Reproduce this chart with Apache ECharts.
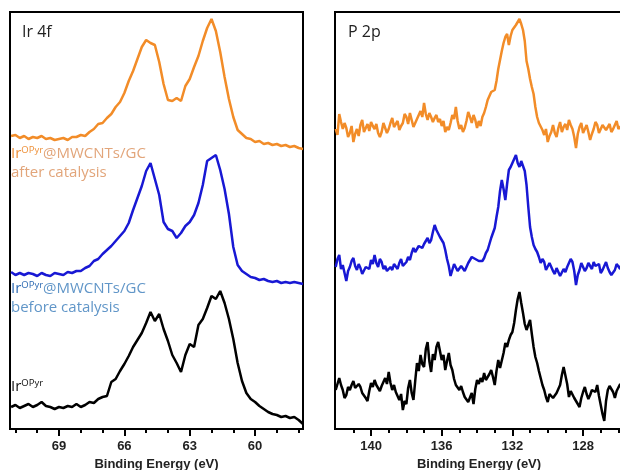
<!DOCTYPE html>
<html>
<head>
<meta charset="utf-8">
<script src="https://cdn.jsdelivr.net/npm/echarts@6/dist/echarts.min.js"></script>
<style>
html,body{margin:0;padding:0;background:#fff;}
#chart{width:620px;height:470px;}
</style>
</head>
<body>
<div id="chart"></div>
<script>
// ---------- DATA ----------
// Ir 4f panel: binding energies (eV) and offset intensities (a.u.)
const irEnergy = [71.2,71.0,70.8,70.6,70.4,70.2,70.0,69.8,69.6,69.4,69.2,69.0,68.8,68.6,68.4,68.2,68.0,67.8,67.6,67.4,67.2,67.0,66.8,66.6,66.4,66.2,66.0,65.8,65.6,65.4,65.2,65.0,64.8,64.6,64.4,64.2,64.0,63.8,63.6,63.4,63.2,63.0,62.8,62.6,62.4,62.2,62.0,61.8,61.6,61.4,61.2,61.0,60.8,60.6,60.4,60.2,60.0,59.8,59.6,59.4,59.2,59.0,58.8,58.6,58.4,58.2,58.0,57.8];
const irAfter = [293,294,291,293,290,292,291,293,290,291,289,290,291,289,292,292,294,293,297,300,305,306,311,315,322,327,336,348,358,370,382,389,386,384,367,345,329,328,331,328,343,350,362,373,388,401,410,398,377,352,330,312,299,295,291,290,287,288,285,286,284,285,283,284,282,283,281,280];
const irBefore = [157,154,156,154,156,155,153,156,154,153,156,155,154,157,156,158,158,161,163,168,170,175,179,183,188,193,198,206,219,231,243,258,266,250,234,207,200,198,191,196,203,207,214,226,244,268,271,274,259,240,215,182,164,158,155,152,151,149,150,148,147,148,146,147,146,147,146,145];
const irComplex = [22,24,21,23,25,22,24,27,23,22,20,22,21,23,22,25,22,24,27,26,30,32,33,47,50,58,65,73,82,89,96,106,117,108,115,100,88,74,66,57,74,85,82,104,110,121,133,130,138,126,110,90,66,48,36,30,27,23,20,17,15,14,12,13,11,12,9,5];

// P 2p panel (0.1 eV steps)
const pEnergy = [
142.0,141.9,141.8,141.7,141.6,141.5,141.4,141.3,141.2,141.1,
141.0,140.9,140.8,140.7,140.6,140.5,140.4,140.3,140.2,140.1,
140.0,139.9,139.8,139.7,139.6,139.5,139.4,139.3,139.2,139.1,
139.0,138.9,138.8,138.7,138.6,138.5,138.4,138.3,138.2,138.1,
138.0,137.9,137.8,137.7,137.6,137.5,137.4,137.3,137.2,137.1,
137.0,136.9,136.8,136.7,136.6,136.5,136.4,136.3,136.2,136.1,
136.0,135.9,135.8,135.7,135.6,135.5,135.4,135.3,135.2,135.1,
135.0,134.9,134.8,134.7,134.6,134.5,134.4,134.3,134.2,134.1,
134.0,133.9,133.8,133.7,133.6,133.5,133.4,133.3,133.2,133.1,
133.0,132.9,132.8,132.7,132.6,132.5,132.4,132.3,132.2,132.1,
132.0,131.9,131.8,131.7,131.6,131.5,131.4,131.3,131.2,131.1,
131.0,130.9,130.8,130.7,130.6,130.5,130.4,130.3,130.2,130.1,
130.0,129.9,129.8,129.7,129.6,129.5,129.4,129.3,129.2,129.1,
129.0,128.9,128.8,128.7,128.6,128.5,128.4,128.3,128.2,128.1,
128.0,127.9,127.8,127.7,127.6,127.5,127.4,127.3,127.2,127.1,
127.0,126.9,126.8,126.7,126.6,126.5,126.4,126.3,126.2,126.1,
126.0,125.9,125.8];
const pAfter = [
300,294,315,307,300,306,301,292,296,303,
287,295,300,293,304,309,297,301,305,298,
307,303,300,305,296,292,297,306,304,296,
300,306,311,302,303,308,299,303,306,315,
312,305,316,309,302,306,310,314,318,312,
326,315,309,316,312,307,311,314,307,310,
303,308,297,302,299,306,314,310,322,308,
300,304,297,301,308,317,312,306,314,309,
301,308,303,312,316,322,329,333,337,335,
339,348,360,369,378,386,392,395,384,393,
399,397,404,406,410,405,399,388,368,360,
350,342,335,322,312,306,305,299,294,300,
287,293,297,304,296,292,301,307,297,302,
305,299,309,304,300,292,281,295,302,306,
296,300,304,297,289,295,300,307,304,296,
298,304,306,299,301,305,297,300,304,308,
300,302,304];
const pBefore = [
162,170,174,160,164,156,148,158,162,168,
171,163,159,165,161,155,157,162,164,160,
169,165,174,166,162,170,167,160,163,158,
157,162,159,165,163,160,166,170,163,165,
167,172,169,176,181,177,179,183,184,181,
185,188,191,186,189,197,204,199,197,192,
189,186,179,170,163,153,159,165,163,158,
157,163,161,158,162,166,169,172,174,170,
172,168,166,168,171,176,179,185,191,196,
201,212,222,238,249,240,229,245,259,262,
266,270,274,266,262,268,266,258,244,222,
202,192,184,180,177,172,166,170,167,159,
161,166,164,158,155,161,159,153,152,160,
157,162,164,170,167,158,144,154,159,166,
164,158,161,166,163,160,167,163,161,165,
156,159,163,167,161,157,154,156,159,165,
163,160,167];
const pComplex = [
39,45,51,44,39,31,34,42,39,44,
48,41,39,45,42,36,37,31,28,38,
46,42,49,44,43,38,43,47,51,45,
57,46,39,44,37,33,29,35,19,28,
25,41,49,36,29,48,66,58,74,65,
62,80,87,68,57,75,69,82,87,78,
69,74,59,68,76,64,59,50,44,42,
39,43,37,32,34,27,29,36,25,40,
49,45,51,47,56,49,47,55,59,52,
44,58,69,61,63,76,86,82,89,94,
97,106,119,130,137,126,116,105,99,104,
109,95,82,72,66,58,51,44,39,32,
27,35,37,31,29,36,34,44,54,62,
64,45,32,38,36,31,29,25,22,31,
37,42,35,30,34,39,41,37,44,33,
24,15,8,28,39,43,44,37,31,38,
36,45,39];

// Axis ticks / labels
const irMajorTicks = [60,63,66,69];
const irMinorTicks = [58,59,60,61,62,63,64,65,66,67,68,69,70,71];
const pMajorTicks = [128,132,136,140];
const pMinorTicks = [126,127,128,129,130,131,132,133,134,135,136,137,138,139,140,141];

const panelTitles = ['Ir 4f','P 2p'];
const axisTitle = 'Binding Energy (eV)';

// ---------- STYLE ----------
const C_OR = '#F28C28', C_BL = '#1818D4', C_BK = '#000000';
const FONT_UI = '"Open Sans","Noto Sans",sans-serif';
const FONT_AX = '"Liberation Sans",Arial,sans-serif';

function pairs(xs, ys){ return xs.map((x,i)=>[x, ys[i]]); }

function mkAxes(gridIndex, min, max, major, minor){
  return [
    {
      gridIndex, type:'value', position:'bottom', inverse:true, min, max,
      axisLine:{show:false}, splitLine:{show:false},
      axisTick:{show:true, inside:false, length:7, lineStyle:{color:'#000', width:2}, customValues: major},
      axisLabel:{show:true, customValues: major, fontFamily:FONT_AX, fontWeight:'bold', fontSize:13, color:'#222', margin:11},
      name: axisTitle, nameLocation:'middle', nameGap:27,
      nameTextStyle:{fontFamily:FONT_AX, fontWeight:'bold', fontSize:13, color:'#222'}
    },
    {
      gridIndex, type:'value', position:'bottom', inverse:true, min, max, offset:0,
      axisLine:{show:false}, splitLine:{show:false},
      axisTick:{show:true, inside:false, length:4, lineStyle:{color:'#000', width:2}, customValues: minor},
      axisLabel:{show:false}
    }
  ];
}

const lineSeries = (xi, yi, data, color) => ({
  type:'line', xAxisIndex:xi, yAxisIndex:yi, data, showSymbol:false, symbol:'none',
  lineStyle:{color, width:2.5}, silent:true, animation:false, clip:true
});

function labelText(x, y, lines){
  return {type:'text', x, y, silent:true, style:Object.assign({align:'left', verticalAlign:'top'}, lines)};
}

function mkRich(cIr, cText){
  return {
    ir:{fontFamily:FONT_UI, fontSize:15, lineHeight:19, fill:cIr, verticalAlign:'bottom'},
    sup:{fontFamily:FONT_UI, fontSize:9.5, lineHeight:19, fill:cIr, verticalAlign:'top', padding:[3,0,0,0]},
    t:{fontFamily:FONT_UI, fontSize:15, lineHeight:19, fill:cText, verticalAlign:'bottom'}
  };
}

const chart = echarts.init(document.getElementById('chart'), null, {renderer:'canvas'});
const option = {
  animation:false,
  backgroundColor:'#fff',
  grid:[
    {left:10, top:12, width:293, height:417, show:true, borderColor:'#000', borderWidth:2, backgroundColor:'transparent', containLabel:false, outerBoundsMode:'none'},
    {left:335, top:12, width:288, height:417, show:true, borderColor:'#000', borderWidth:2, backgroundColor:'transparent', containLabel:false, outerBoundsMode:'none'}
  ],
  xAxis:[
    ...mkAxes(0, 57.8, 71.25, irMajorTicks, irMinorTicks),
    ...mkAxes(1, 125.74, 142.04, pMajorTicks, pMinorTicks)
  ],
  yAxis:[
    {gridIndex:0, type:'value', min:0, max:417, show:false},
    {gridIndex:1, type:'value', min:0, max:417, show:false}
  ],
  series:[
    lineSeries(0,0,pairs(irEnergy, irAfter), C_OR),
    lineSeries(0,0,pairs(irEnergy, irBefore), C_BL),
    lineSeries(0,0,pairs(irEnergy, irComplex), C_BK),
    lineSeries(2,1,pairs(pEnergy, pAfter), C_OR),
    lineSeries(2,1,pairs(pEnergy, pBefore), C_BL),
    lineSeries(2,1,pairs(pEnergy, pComplex), C_BK)
  ],
  graphic:[
    {type:'text', x:22, y:24, silent:true, style:{text:panelTitles[0], fontFamily:FONT_UI, fontSize:16, fill:'#222', align:'left', verticalAlign:'top'}},
    {type:'text', x:348, y:24, silent:true, style:{text:panelTitles[1], fontFamily:FONT_UI, fontSize:16, fill:'#222', align:'left', verticalAlign:'top'}},
    labelText(11, 142, {text:'{ir|Ir}{sup|OPyr}{t|@MWCNTs/GC}\n{t|after catalysis}', rich:mkRich('#EE913A','#E2A57A')}),
    labelText(11, 277, {text:'{ir|Ir}{sup|OPyr}{t|@MWCNTs/GC}\n{t|before catalysis}', rich:mkRich('#2F6BB3','#6196C8')}),
    labelText(11, 375, {text:'{ir|Ir}{sup|OPyr}', rich:mkRich('#111','#111')})
  ]
};
chart.setOption(option);
</script>
</body>
</html>
